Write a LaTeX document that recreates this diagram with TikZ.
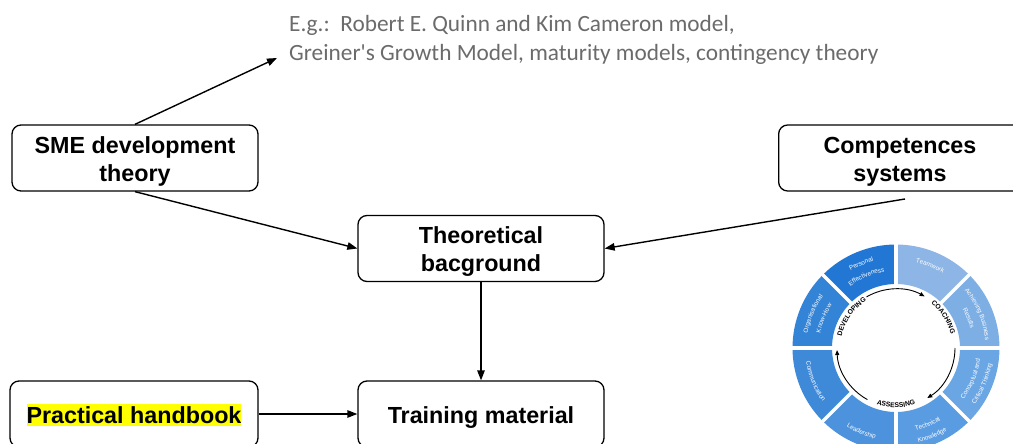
\documentclass[tikz,border=0pt]{standalone}
\usepackage{fontspec}
\setmainfont{Liberation Sans}
\newfontfamily\egfont{Carlito}
\usetikzlibrary{arrows.meta,decorations.text,calc}

\definecolor{egray}{HTML}{6B6B6B}
\definecolor{hlyellow}{HTML}{FFFF00}
\definecolor{segPE}{HTML}{2277D4}
\definecolor{segTW}{HTML}{8DB5E5}
\definecolor{segAB}{HTML}{7DAEE4}
\definecolor{segCT}{HTML}{6AA5E4}
\definecolor{segTK}{HTML}{5A9CE2}
\definecolor{segLD}{HTML}{4C92DC}
\definecolor{segCM}{HTML}{3E89D8}
\definecolor{segOK}{HTML}{3383D6}

\newcommand\wheelfont{\fontsize{6.3}{7}\selectfont}
\newcommand\cyclefont{\fontsize{6.8}{8}\selectfont\bfseries}

\begin{document}
\begin{tikzpicture}[x=1pt,y=1pt,
  box/.style={draw=black, line width=1.3pt, rounded corners=9pt,
    minimum width=246pt, minimum height=66pt, inner sep=0pt},
  boxtext/.style={inner sep=0pt, align=center, yshift=-3.5pt,
    font=\fontsize{23.3}{28}\selectfont\bfseries},
  conn/.style={line width=1.4pt, -{Triangle[length=10pt,width=7.5pt]}},
  egtext/.style={inner sep=0pt, align=left, text=egray,
    font=\egfont\fontsize{23.3}{29.5}\selectfont},
  wtext/.style={decorate, decoration={text along path, text align=center,
    text color=white, text={|\wheelfont|#1}}},
  ctext/.style={decorate, decoration={text along path, text align=center,
    text={|\cyclefont|#1}}},
  carrow/.style={line width=0.9pt, -{Triangle[length=5pt,width=4pt]}},
  gap/.style={white, line width=3.5pt}]

\useasboundingbox (0,0) rectangle (1013,-444);
\clip (0,0) rectangle (1013,-444);

% ---- boxes ----
\node[box] (sme) at (135,-158) {};
\node[boxtext] (smetext) at (sme.center) {SME development\\theory};
\node[box, minimum width=244pt, anchor=west] (comp) at (778,-158) {};
\node[boxtext] (comptext) at (900,-158) {Competences\\systems};
\node[box] (theo) at (481,-248.5) {};
\node[boxtext] (theotext) at (theo.center) {Theoretical\\bacground};
\node[box, minimum width=248pt] (prac) at (134,-414) {};
\node[boxtext, fill=hlyellow, inner ysep=2pt, yshift=2.5pt] (practext) at (prac.center) {Practical handbook};
\node[box] (train) at (481,-414) {};
\node[boxtext] (traintext) at (train.center) {Training material};

% ---- examples note ----
\node[egtext, anchor=west] (eg) at (289,-40)
  {E.g.:\ \ Robert E. Quinn and Kim Cameron model,\\
   Greiner\textquotesingle s Growth Model, maturity models, contingency theory};

% ---- connectors ----
\coordinate (egtip) at (277,-58);
\coordinate (compout) at (905,-199);
\draw[conn] (sme.north) -- (egtip);
\draw[conn] (sme.south) -- (theo.west);
\draw[conn] (compout) -- (theo.east);
\draw[conn] (theo.south) -- (train.north);
\draw[conn] (prac.east) -- (train.west);

% ---- competence wheel ----
\coordinate (wc) at (896,-348);
\foreach \a/\col in {90/segPE, 45/segTW, 0/segAB, -45/segCT, -90/segTK,
                     -135/segLD, 180/segCM, 135/segOK}{
  \fill[\col] ([shift={(\a:103.5pt)}]wc) arc[start angle=\a, end angle=\a+45, radius=103.5pt]
    -- ([shift={({\a+45}:64pt)}]wc) arc[start angle=\a+45, end angle=\a, radius=64pt] -- cycle;
}
\foreach \a in {0,45,...,315}{
  \draw[gap] (wc) -- ([shift={(\a:108pt)}]wc);
}

% segment labels, upper half (read clockwise)
\path[wtext={Personal}] ([shift={(134:89.5pt)}]wc) arc[start angle=134, end angle=91, radius=89.5pt];
\path[wtext={Effectiveness}] ([shift={(134:77pt)}]wc) arc[start angle=134, end angle=91, radius=77pt];
\path[wtext={Teamwork}] ([shift={(89:88pt)}]wc) arc[start angle=89, end angle=46, radius=88pt];
\path[wtext={Achieving Business}] ([shift={(44:89.5pt)}]wc) arc[start angle=44, end angle=1, radius=89.5pt];
\path[wtext={Results}] ([shift={(44:77pt)}]wc) arc[start angle=44, end angle=1, radius=77pt];
\path[wtext={Organisational}] ([shift={(179:89.5pt)}]wc) arc[start angle=179, end angle=136, radius=89.5pt];
\path[wtext={Know-How}] ([shift={(179:77pt)}]wc) arc[start angle=179, end angle=136, radius=77pt];

% segment labels, lower half (read counter-clockwise)
\path[wtext={Conceptual and}] ([shift={(-44:85pt)}]wc) arc[start angle=-44, end angle=-1, radius=85pt];
\path[wtext={Critical Thinking}] ([shift={(-44:97pt)}]wc) arc[start angle=-44, end angle=-1, radius=97pt];
\path[wtext={Technical}] ([shift={(-89:85pt)}]wc) arc[start angle=-89, end angle=-46, radius=85pt];
\path[wtext={Knowledge}] ([shift={(-89:97pt)}]wc) arc[start angle=-89, end angle=-46, radius=97pt];
\path[wtext={Leadership}] ([shift={(-134:93pt)}]wc) arc[start angle=-134, end angle=-91, radius=93pt];
\path[wtext={Communication}] ([shift={(181:91pt)}]wc) arc[start angle=181, end angle=224, radius=91pt];

% inner cycle
\path[ctext={DEVELOPING}] ([shift={(175:55.5pt)}]wc) arc[start angle=175, end angle=115, radius=55.5pt];
\path[ctext={COACHING}] ([shift={(63:56.5pt)}]wc) arc[start angle=63, end angle=3, radius=56.5pt];
\path[ctext={ASSESSING}] ([shift={(-120:59.5pt)}]wc) arc[start angle=-120, end angle=-60, radius=59.5pt];
\draw[carrow] ([shift={(120:59pt)}]wc) arc[start angle=120, end angle=61, radius=59pt];
\draw[carrow] ([shift={(0:59pt)}]wc) arc[start angle=0, end angle=-58, radius=59pt];
\draw[carrow] ([shift={(-119:59pt)}]wc) arc[start angle=-119, end angle=-178, radius=59pt];
\end{tikzpicture}
\end{document}
